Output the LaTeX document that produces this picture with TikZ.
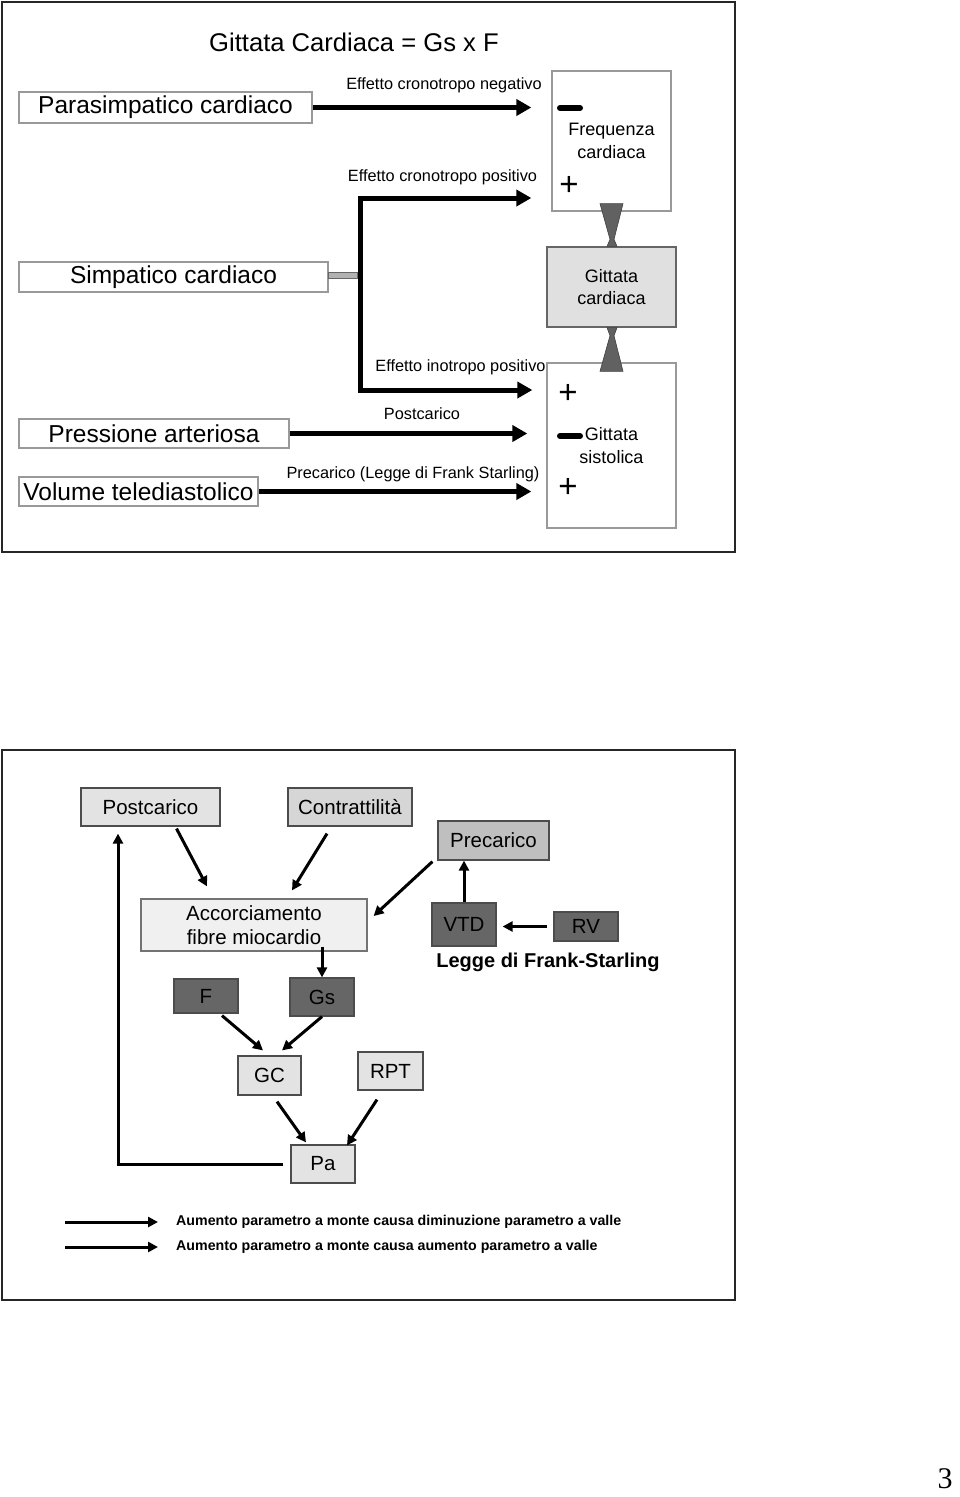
\documentclass[tikz,border=0pt]{standalone}
\usepackage{fontspec}
\setmainfont{Liberation Sans}
\newfontfamily\serifnum{Liberation Serif}
\usetikzlibrary{arrows.meta,calc}
\begin{document}
\begin{tikzpicture}[x=1pt,y=-1pt,
  lbl/.style={inner sep=0pt, font=\fontsize{16.3}{19}\selectfont},
  tbox/.style={draw=black!40, line width=1.3pt, inner sep=0pt, align=center, font=\fontsize{24.5}{29}\selectfont},
  sbox/.style={draw=black!40, line width=1.3pt, inner sep=0pt, align=center, font=\fontsize{18}{22.5}\selectfont},
  bbox/.style={draw=black!70, line width=1.2pt, inner sep=0pt, align=center, font=\fontsize{20.5}{24.5}\selectfont},
  lightbox/.style={bbox, fill=black!11},
  darkbox/.style={bbox, fill=black!60},
  bigarrow/.style={line width=5pt, -{Triangle[length=15pt,width=16pt]}},
  arr/.style={line width=3pt, -{Triangle[length=10pt,width=10pt]}},
  wedge/.style={fill=black!62, draw=black!75, line width=0.6pt},
  sign/.style={inner sep=0pt, font=\fontsize{33}{33}\selectfont},
  minus/.style={line width=6pt, line cap=round},
  frame/.style={draw=black!85, line width=2.2pt}]

\useasboundingbox (0,0) rectangle (960,1497);
\fill[white] (0,0) rectangle (960,1497);

% ---------- top panel ----------
\draw[frame] (2,2) rectangle (735,552);
\node[font=\fontsize{25.6}{30}\selectfont] (title) at (354,42) {Gittata Cardiaca = Gs x F};

\node[tbox, minimum width=293pt, minimum height=31pt] (para) at (165.5,107.5) {Parasimpatico cardiaco};
\node[tbox, minimum width=309pt, minimum height=30pt] (simp) at (173.5,277) {Simpatico cardiaco};
\node[tbox, minimum width=270pt, minimum height=29pt] (pres) at (154,433.5) {Pressione arteriosa};
\node[tbox, minimum width=239pt, minimum height=29pt] (vol) at (138.5,491.5) {Volume telediastolico};

\node[sbox, minimum width=119pt, minimum height=140pt] (freq) at (611.5,141) {Frequenza\\cardiaca};
\node[sbox, fill=black!12, draw=black!60, minimum width=129pt, minimum height=80pt] (gc) at (611.5,287) {Gittata\\cardiaca};
\node[sbox, minimum width=129pt, minimum height=165pt] (gsis) at (611.5,445.5) {Gittata\\sistolica};

\node[lbl] (l1) at (444,85) {Effetto cronotropo negativo};
\node[lbl] (l2) at (442.5,177) {Effetto cronotropo positivo};
\node[lbl] (l3) at (460.5,367) {Effetto inotropo positivo};
\node[lbl] (l4) at (422,414) {Postcarico};
\node[lbl] (l5) at (413,474) {Precarico (Legge di Frank Starling)};

\draw[bigarrow, shorten >=20pt] (para.east) -- (para.east -| freq.west);
\coordinate (ct) at (360,198);
\coordinate (cb) at (360,390);
\draw[bigarrow, line cap=rect, shorten >=20pt] (cb) -- (ct) -- (ct -| freq.west);
\draw[bigarrow, shorten >=14pt] (cb) -- (cb -| gsis.west);
\draw[bigarrow, shorten >=19pt] (pres.east) -- (pres.east -| gsis.west);
\draw[bigarrow, shorten >=15pt] (vol.east) -- (vol.east -| gsis.west);

\draw[fill=black!30, draw=black!60, line width=0.8pt] ($(simp.east)+(0,-5)$) rectangle ($(simp.east -| ct)+(-3,1)$);

\draw[wedge] ($(freq.south)+(-11.5,-8)$) -- ($(freq.south)+(11.5,-8)$) -- ($(gc.north)+(2.5,-7)$) -- ($(gc.north)+(5.5,0)$) -- ($(gc.north)+(-4.5,0)$) -- ($(gc.north)+(-1.5,-7)$) -- cycle;
\draw[wedge] ($(gc.south)+(-4.5,0)$) -- ($(gc.south)+(5.5,0)$) -- ($(gc.south)+(2.5,8)$) -- ($(gsis.north)+(11.5,9)$) -- ($(gsis.north)+(-11.5,9)$) -- ($(gc.south)+(-1.5,8)$) -- cycle;

\draw[minus] (560,108) -- (580,108);
\node[sign] (p1) at (569,186) {+};
\node[sign] (p2) at (568,394) {+};
\draw[minus] (560,436) -- (580,436);
\node[sign] (p3) at (568,488) {+};

% ---------- bottom panel ----------
\draw[frame] (2,750) rectangle (735,1300);

\node[lightbox, minimum width=139pt, minimum height=38pt] (post) at (150.5,807) {Postcarico};
\node[bbox, fill=black!16, minimum width=124pt, minimum height=38pt] (contr) at (350,807) {Contrattilità};
\node[bbox, fill=black!25, minimum width=111pt, minimum height=39pt] (prec) at (493.5,840.5) {Precarico};
\node[bbox, fill=black!6, draw=black!55, minimum width=226pt, minimum height=52pt] (acc) at (254,925) {Accorciamento\\fibre miocardio};
\node[darkbox, minimum width=64pt, minimum height=34pt] (F) at (206,996) {F};
\node[darkbox, minimum width=64pt, minimum height=38pt] (Gs) at (322,997) {Gs};
\node[darkbox, minimum width=64pt, minimum height=43pt] (VTD) at (464,924.5) {VTD};
\node[darkbox, minimum width=64pt, minimum height=29pt] (RV) at (586,926.5) {RV};
\node[font=\bfseries\fontsize{20}{24}\selectfont] (legge) at (548,962) {Legge di Frank-Starling};
\node[lightbox, minimum width=63pt, minimum height=39pt] (GC) at (269.5,1075.5) {GC};
\node[lightbox, minimum width=65pt, minimum height=38pt] (RPT) at (390.5,1071) {RPT};
\node[lightbox, minimum width=64pt, minimum height=38pt] (Pa) at (323,1164) {Pa};

\draw[arr] ($(post.south)+(26,2)$) -- ($(acc.north)+(-47,-12)$);
\draw[arr] ($(contr.south)+(-23,7)$) -- ($(acc.north)+(38,-8)$);
\draw[arr] ($(prec.south west)+(-5,1)$) -- ($(acc.east)+(6,-9)$);
\draw[arr] ($(acc.south -| Gs.north)+(0,-5)$) -- (Gs.north);
\draw[arr] (VTD.north) -- (VTD.north |- prec.south);
\draw[arr] ($(RV.west)+(-6,0)$) -- ($(VTD.east |- RV.west)+(6,0)$);
\draw[arr] ($(F.south)+(16,2)$) -- ($(GC.north)+(-6.5,-5)$);
\draw[arr] (Gs.south) -- ($(GC.north)+(12.5,-5)$);
\draw[arr] ($(GC.south)+(7.5,6)$) -- ($(Pa.north)+(-17,-2)$);
\draw[arr] ($(RPT.south)+(-13.5,9)$) -- ($(Pa.north)+(24,1)$);
\draw[arr] ($(Pa.west)+(-7,0)$) -| ($(post.south)+(-32.5,7)$);

\coordinate (a1) at (65,1222);
\coordinate (b1) at (158,1222);
\coordinate (a2) at (65,1247);
\coordinate (b2) at (158,1247);
\draw[arr] (a1) -- (b1);
\draw[arr] (a2) -- (b2);
\node[anchor=west, inner sep=0pt, font=\bfseries\fontsize{14.2}{17}\selectfont] (t1) at (176,1222) {Aumento parametro a monte causa diminuzione parametro a valle};
\node[anchor=west, inner sep=0pt, font=\bfseries\fontsize{14.2}{17}\selectfont] (t2) at (176,1247) {Aumento parametro a monte causa aumento parametro a valle};

\node[inner sep=0pt, font=\serifnum\fontsize{30}{30}\selectfont] (pg) at (945,1479) {3};
\end{tikzpicture}
\end{document}
